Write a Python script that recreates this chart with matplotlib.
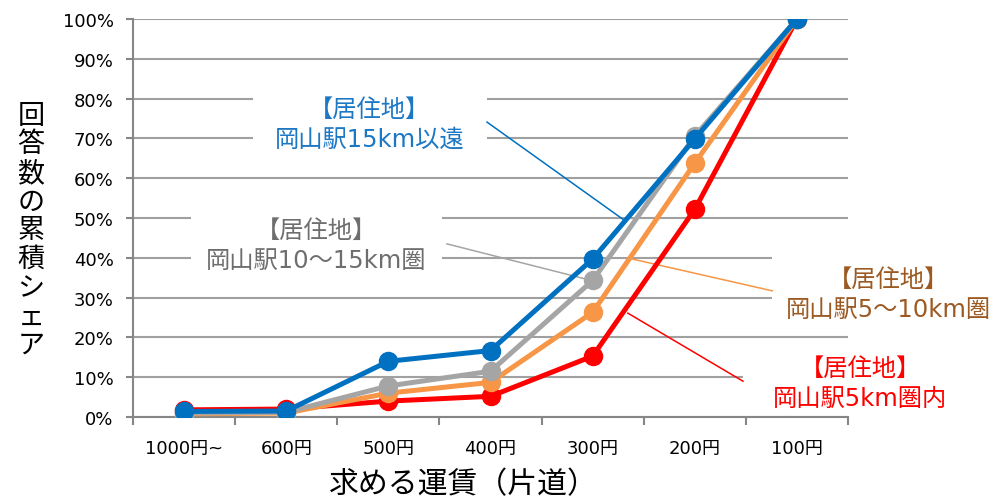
import matplotlib
matplotlib.use("Agg")
import matplotlib.pyplot as plt
import numpy as np
from matplotlib.patches import Rectangle
from matplotlib.ticker import FixedLocator, PercentFormatter

plt.rcParams["font.family"] = ["Noto Sans CJK JP", "DejaVu Sans"]
# latin glyphs from DejaVu (wider), kana/kanji fall back to Noto
MIXED = ["DejaVu Sans", "Noto Sans CJK JP"]

# fare categories (one-way), cheapest last
fares = ["1000円~", "600円", "500円", "400円", "300円", "200円", "100円"]

# cumulative share of answers (%) by residence distance from Okayama Station
share_within5 = [1.8, 2.0, 4.0, 5.2, 15.3, 52.2, 100.0]
share_5to10 = [0.8, 1.0, 6.0, 8.7, 26.3, 63.8, 100.0]
share_10to15 = [1.0, 1.2, 7.8, 11.5, 34.3, 70.6, 100.0]
share_over15 = [1.4, 1.5, 14.0, 16.7, 39.7, 69.9, 100.0]

series_labels = [
    "【居住地】\n岡山駅5km圏内",
    "【居住地】\n岡山駅5～10km圏",
    "【居住地】\n岡山駅10～15km圏",
    "【居住地】\n岡山駅15km以遠",
]

LINE_COLORS = ["#ff0000", "#f79646", "#a5a5a5", "#0070c0"]
TEXT_COLORS = ["#ff0000", "#9c5a22", "#6e6e6e", "#1c78c4"]
GRID = "#a0a0a0"

fig = plt.figure(figsize=(10.01, 5.02), dpi=100)
ax = fig.add_axes([0.1329, 0.1673, 0.7143, 0.7929])

x = np.arange(len(fares))
all_series = [share_within5, share_5to10, share_10to15, share_over15]
for i, (vals, col) in enumerate(zip(all_series, LINE_COLORS)):
    ax.plot(x, vals, color=col, linewidth=3.6, marker="o", markersize=13,
            zorder=5 + i, solid_capstyle="round")

ax.set_xlim(-0.5, len(fares) - 0.5)
ax.set_ylim(0, 100)

# --- axes styling ---
ax.yaxis.set_major_locator(FixedLocator(np.arange(0, 101, 10)))
ax.yaxis.set_major_formatter(PercentFormatter(decimals=0))
ax.grid(True, axis="y", color=GRID, linewidth=1.5, zorder=0)
ax.set_axisbelow(True)
for side in ("top", "right"):
    ax.spines[side].set_visible(False)
for side in ("left", "bottom"):
    ax.spines[side].set_color("#868686")
    ax.spines[side].set_linewidth(1.5)

ax.set_xticks(x)
ax.set_xticklabels(fares, fontsize=13, family=MIXED)
ax.set_xticks(np.arange(-0.5, len(fares)), minor=True)
ax.tick_params(axis="x", which="major", length=0, pad=16)
ax.tick_params(axis="x", which="minor", length=6, width=1.5, color="#868686")
ax.tick_params(axis="y", length=5, width=1.5, color="#868686",
               labelsize=13, pad=9)
for lbl in ax.get_yticklabels():
    lbl.set_family(MIXED)

ax.set_xlabel("求める運賃（片道）", fontsize=21.5)
ax.xaxis.label.set_va("center")
ax.xaxis.set_label_coords(0.4615, -0.168)
fig.text(0.031, 0.54, "\n".join("回答数の累積シェア"), fontsize=19.5,
         ha="center", va="center", linespacing=1.08)

# --- series labels: white boxes over the grid, thin leader lines ---
# (box x0, box y0, w, h, text x, text y, leader start, leader end) in axes fraction
label_layout = [
    (0.853, 0.020, 0.311, 0.150, 1.017, 0.085, (0.853, 0.090), (0.692, 0.261)),
    (0.894, 0.234, 0.323, 0.176, 1.056, 0.310, (0.894, 0.317), (0.698, 0.397)),
    (0.081, 0.359, 0.351, 0.176, 0.256, 0.433, (0.439, 0.435), (0.639, 0.344)),
    (0.168, 0.648, 0.327, 0.201, 0.331, 0.737, (0.495, 0.741), (0.685, 0.497)),
]
for text, tcol, lcol, lay in zip(series_labels, TEXT_COLORS, LINE_COLORS,
                                 label_layout):
    bx, by, bw, bh, tx, ty, p0, p1 = lay
    ax.add_patch(Rectangle((bx, by), bw, bh, transform=ax.transAxes,
                           facecolor="white", edgecolor="none", zorder=2,
                           clip_on=False))
    ax.text(tx, ty, text, transform=ax.transAxes, ha="center", va="center",
            color=tcol, fontsize=17.5, linespacing=1.3, zorder=3,
            family=MIXED)
    ax.plot([p0[0], p1[0]], [p0[1], p1[1]], transform=ax.transAxes,
            color=lcol, linewidth=1.1, zorder=3, clip_on=False)

fig.savefig("out.png", dpi=100)
